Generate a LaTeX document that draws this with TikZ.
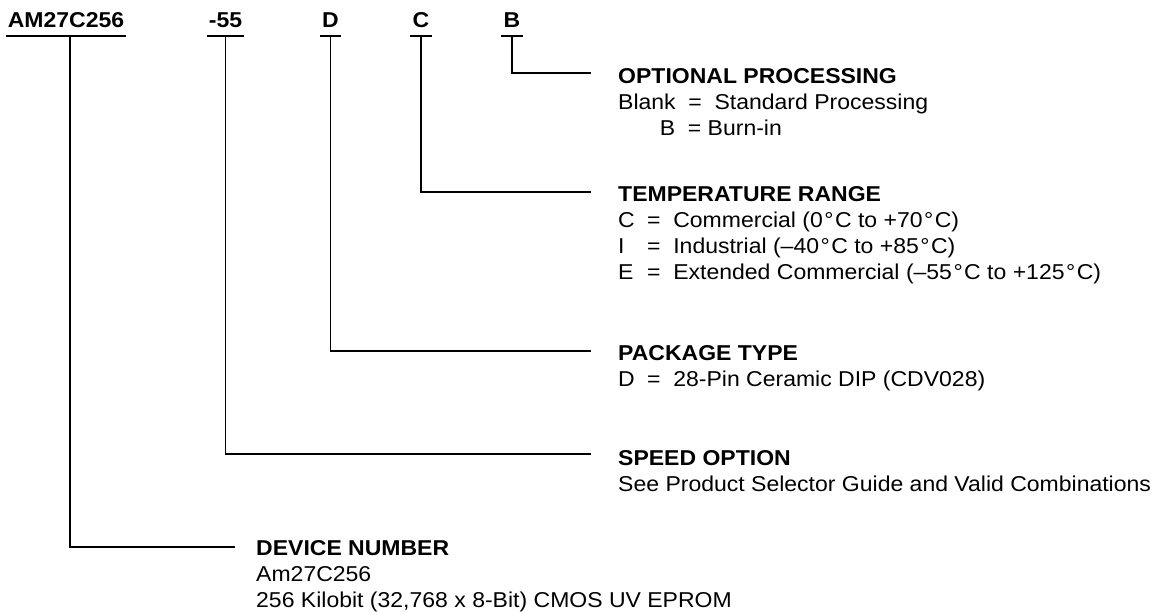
\documentclass[tikz,border=0pt]{standalone}
\usepackage{fontspec}
\setmainfont{Liberation Sans}[FakeStretch=1.07]
\newcommand{\dgr}{\hspace{1.5pt}°\hspace{1.5pt}}

\tikzset{
  partno/.style={font=\fontsize{21.5}{26}\selectfont\bfseries, inner xsep=2pt, inner ysep=8pt, text depth=0pt, anchor=base},
  field/.style={font=\fontsize{21.5}{26}\selectfont, align=left, inner sep=0pt, anchor=base west},
  lead/.style={line width=1.6pt},
}

\begin{document}
\begin{tikzpicture}[x=1pt, y=-1pt]
  \useasboundingbox (0,0) rectangle (1157,612);

  % ordering code
  \node[partno] (dev) at (66,28) {AM27C256};
  \node[partno] (spd) at (225.5,28) {-55};
  \node[partno] (pkg) at (330.5,28) {D};
  \node[partno] (tmp) at (421,28) {C};
  \node[partno] (opt) at (512,28) {B};
  \foreach \n in {dev,spd,pkg,tmp,opt}
    \draw[lead] (\n.south west) -- (\n.south east);

  % field descriptions (placed by the baseline of their last line)
  \node[field] (optTxt) at (618,136) {\textbf{OPTIONAL PROCESSING}\\
    Blank\hspace{12.7pt}=\hspace{12.7pt}Standard Processing\\
    \makebox[57pt][r]{B}\hspace{12.7pt}=\hspace{6.4pt}Burn-in};
  \node[field] (tmpTxt) at (618,280) {\textbf{TEMPERATURE RANGE}\\
    \makebox[29pt][l]{C}=\hspace{12.7pt}Commercial (0\dgr C to +70\dgr C)\\
    \makebox[29pt][l]{I}=\hspace{12.7pt}Industrial (–40\dgr C to +85\dgr C)\\
    \makebox[29pt][l]{E}=\hspace{12.7pt}Extended Commercial (–55\dgr C to +125\dgr C)};
  \node[field] (pkgTxt) at (618,387) {\textbf{PACKAGE TYPE}\\
    \makebox[29pt][l]{D}=\hspace{12.7pt}28-Pin Ceramic DIP (CDV028)};
  \node[field] (spdTxt) at (618,491) {\textbf{SPEED OPTION}\\
    See Product Selector Guide and Valid Combinations};
  \node[field] (devTxt) at (256,607) {\textbf{DEVICE NUMBER}\\
    Am27C256\\
    256 Kilobit (32,768 x 8-Bit) CMOS UV EPROM};

  % leads
  \coordinate (optEnd) at (591,73);
  \coordinate (tmpEnd) at (591,192);
  \coordinate (pkgEnd) at (591,351);
  \coordinate (spdEnd) at (591,454);
  \coordinate (devEnd) at (235,547);
  \draw[lead] (opt.south) |- (optEnd);
  \draw[lead] (tmp.south) |- (tmpEnd);
  \draw[lead] (pkg.south) |- (pkgEnd);
  \draw[lead] (spd.south) |- (spdEnd);
  \draw[lead] ([xshift=4pt]dev.south) |- (devEnd);
\end{tikzpicture}
\end{document}
